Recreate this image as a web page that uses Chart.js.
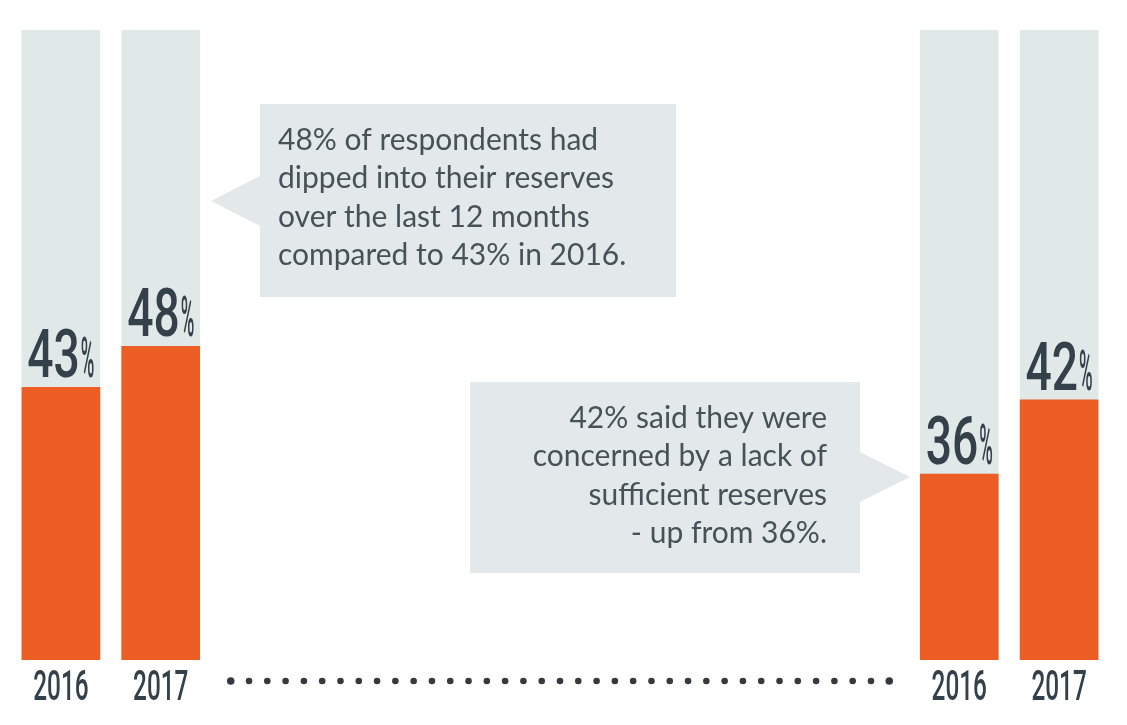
<!DOCTYPE html>
<html>
<head>
<meta charset="utf-8">
<script src="https://cdn.jsdelivr.net/npm/chart.js@4.4.1/dist/chart.umd.min.js"></script>
<style>
  html, body { margin: 0; padding: 0; background: #ffffff; }
  #wrap { position: relative; width: 1127px; height: 725px; }
</style>
</head>
<body>
<div id="wrap"><canvas id="reserves"></canvas></div>
<script>
// ══ DATA ═════════════════════════════════════════════════════════
const years = ['2016', '2017', '2016', '2017'];
const shownPct = [43, 48, 36, 42];            // numbers printed above the bars
const barPct = [43.3, 49.8, 29.5, 41.3];      // bar lengths as drawn (the original is not to scale)
const trackPct = [100, 100, 100, 100];
const noteDipped = ['48% of respondents had', 'dipped into their reserves', 'over the last 12 months', 'compared to 43% in 2016.'];
const noteConcern = ['42% said they were', 'concerned by a lack of', 'sufficient reserves', '- up from 36%.'];

const SPACERS = 7; // empty slots between the two year pairs

// ══ STYLE ════════════════════════════════════════════════════════
const ORANGE = '#ec5e23';
const TRACK = '#e1e8e8';
const BOX = '#e3e9ea';
const INK = '#34414a';
const TEXT = '#485156';

// spread the pairs across one category axis
function spread(arr) {
  const gap = Array(SPACERS).fill(null);
  return [arr[0], arr[1], ...gap, arr[2], arr[3]];
}
const slotLabels = spread(years).map(v => v || '');
const slotIdx = [0, 1, 2 + SPACERS, 3 + SPACERS];

function narrowText(ctx, txt, x, y, size, sx, align) {
  ctx.save();
  ctx.font = '500 ' + size + 'px Roboto';
  ctx.translate(x, y);
  ctx.scale(sx, 1);
  ctx.textAlign = align || 'left';
  ctx.textBaseline = 'alphabetic';
  ctx.fillText(txt, 0, 0);
  ctx.restore();
}
function narrowWidth(ctx, txt, size, sx) {
  ctx.save();
  ctx.font = '500 ' + size + 'px Roboto';
  const w = ctx.measureText(txt).width * sx;
  ctx.restore();
  return w;
}

function callout(ctx, box, tip, lines, align) {
  ctx.save();
  ctx.fillStyle = BOX;
  ctx.fillRect(box.x, box.y, box.w, box.h);
  ctx.beginPath();
  const edge = tip.x < box.x ? box.x : box.x + box.w;
  ctx.moveTo(edge, tip.y - 25);
  ctx.lineTo(tip.x, tip.y);
  ctx.lineTo(edge, tip.y + 25);
  ctx.closePath();
  ctx.fill();
  ctx.fillStyle = TEXT;
  ctx.font = '30px Lato';
  ctx.textAlign = align;
  ctx.textBaseline = 'middle';
  const tx = align === 'left' ? box.x + 18 : box.x + box.w - 33;
  lines.forEach((ln, i) => ctx.fillText(ln, tx, box.y + 36 + i * 38.6));
  ctx.restore();
}

const decorPlugin = {
  id: 'decor',
  afterDatasetsDraw(chart) {
    const ctx = chart.ctx;
    const xs = chart.scales.x, ys = chart.scales.y;

    // value labels and years
    ctx.fillStyle = INK;
    slotIdx.forEach((slot, i) => {
      const cx = xs.getPixelForValue(slot);
      const top = ys.getPixelForValue(barPct[i]);
      const num = String(shownPct[i]);
      const wNum = narrowWidth(ctx, num, 66, 0.7);
      const wPct = narrowWidth(ctx, '%', 56, 0.33);
      const x0 = cx - (wNum + 1 + wPct) / 2;
      narrowText(ctx, num, x0, top - 10, 66, 0.7, 'left');
      narrowText(ctx, '%', x0 + wNum + 1, top - 10, 56, 0.33, 'left');
      narrowText(ctx, years[i], cx, 700, 42, 0.58, 'center');
    });

    // dotted connector between the pairs
    const x1 = xs.getPixelForValue(1) + 70;
    const x2 = xs.getPixelForValue(2 + SPACERS) - 70;
    const n = 37;
    ctx.fillStyle = '#333b40';
    for (let k = 0; k < n; k++) {
      const x = x1 + (x2 - x1) * k / (n - 1);
      ctx.beginPath();
      ctx.arc(x, 681, (k === 0 || k === n - 1) ? 3.8 : 3.3, 0, Math.PI * 2);
      ctx.fill();
    }

    // notes
    callout(ctx, { x: 260, y: 104, w: 416, h: 193 }, { x: 211, y: 201 }, noteDipped, 'left');
    callout(ctx, { x: 470, y: 382, w: 390, h: 191 }, { x: 910, y: 477 }, noteConcern, 'right');
  }
};

new Chart(document.getElementById('reserves'), {
  type: 'bar',
  data: {
    labels: slotLabels,
    datasets: [
      { label: 'share', data: spread(barPct), backgroundColor: ORANGE, barThickness: 78, grouped: false, order: 0 },
      { label: 'track', data: spread(trackPct), backgroundColor: TRACK, barThickness: 78, grouped: false, order: 1 },
    ]
  },
  options: {
    responsive: true, maintainAspectRatio: false, animation: false,
    layout: { padding: { left: 11, right: 18, top: 30, bottom: 65 } },
    plugins: { legend: { display: false }, tooltip: { enabled: false } },
    scales: {
      x: { display: false },
      y: { display: false, min: 0, max: 100 }
    }
  },
  plugins: [decorPlugin]
});
</script>
</body>
</html>
